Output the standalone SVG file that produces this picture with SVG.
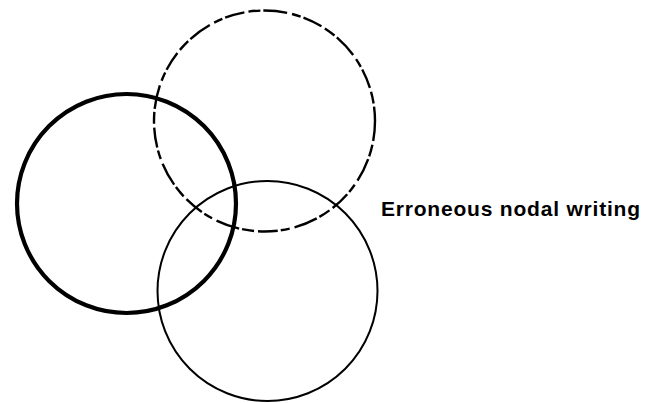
<svg xmlns="http://www.w3.org/2000/svg" width="646" height="403" viewBox="0 0 646 403">
<style>
.c{fill:none;stroke:#000;}
.thick{stroke-width:4.2;}
.dash{stroke-width:2.4;stroke-dasharray:20 4 12 3 24 5 9 3;}
.thin{stroke-width:2;}
.lbl{font-family:"Liberation Sans",Arial,sans-serif;font-weight:bold;font-size:21px;fill:#000;}
</style>
<rect width="646" height="403" fill="#fff"/>
<g id="circle-thick"><circle class="c thick" cx="126.5" cy="203.5" r="109.5"/></g>
<g id="circle-dashed"><circle class="c dash" cx="264.5" cy="121" r="110.5"/></g>
<g id="circle-thin"><circle class="c thin" cx="267.5" cy="291" r="110"/></g>
<g id="connectors"></g>
<g id="label"><text class="lbl" x="381" y="216" textLength="259" lengthAdjust="spacing">Erroneous nodal writing</text></g>
</svg>
